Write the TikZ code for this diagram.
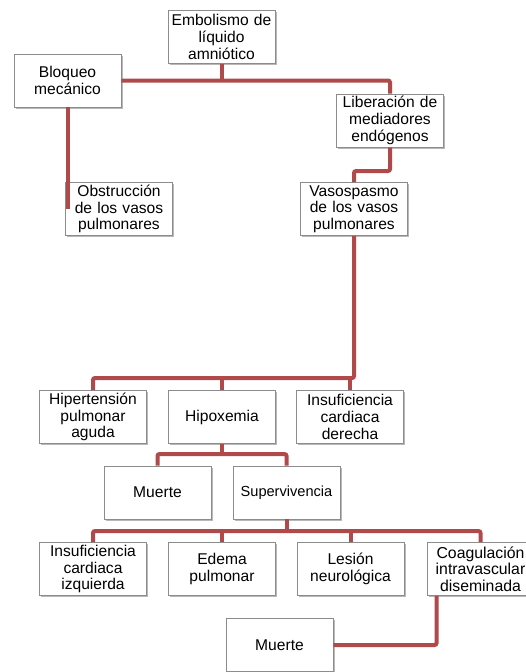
\documentclass[tikz,border=0pt]{standalone}
\usepackage{fontspec}
\setmainfont{Liberation Sans}
\usetikzlibrary{shadows}
\definecolor{linkred}{RGB}{176,74,74}
\definecolor{boxgray}{RGB}{140,140,140}
\tikzset{
  box/.style={draw=boxgray, line width=0.9pt, fill=white, inner sep=1pt,
    minimum width=107pt, minimum height=53pt, text width=104pt, align=center,
    font=\fontsize{15.6}{16.7}\selectfont,
    drop shadow={shadow xshift=1.5pt, shadow yshift=-1.8pt, opacity=0.28, fill=black}},
  link/.style={draw=linkred, line width=4pt, rounded corners=2pt}
}
\begin{document}
\begin{tikzpicture}[x=1pt,y=-1pt]
\useasboundingbox (0,0) rectangle (526,672);
\clip (0,0) rectangle (526,672);
% nodes
\node[box] (emb) at (221.5,37) {Embolismo de\\líquido\\amniótico};
\node[box] (bloq) at (67.5,80.5) {Bloqueo\\mecánico};
\node[box] (lib) at (390,120.5) {Liberación de\\mediadores\\endógenos};
\node[box] (obs) at (119,209) {Obstrucción\\de los vasos\\pulmonares};
\node[box] (vaso) at (354,209) {Vasospasmo\\de los vasos\\pulmonares};
\node[box] (hip) at (93,417) {Hipertensión\\pulmonar\\aguda};
\node[box] (hipox) at (222,417) {Hipoxemia};
\node[box] (icd) at (350,417) {Insuficiencia\\cardiaca\\derecha};
\node[box] (m1) at (157.5,492.5) {Muerte};
\node[box, font=\fontsize{14.6}{16.7}\selectfont] (sup) at (286.5,492.5) {Supervivencia};
\node[box] (ici) at (93,569) {Insuficiencia\\cardiaca\\izquierda};
\node[box] (edema) at (222,569) {Edema\\pulmonar};
\node[box] (lesion) at (350.5,569) {Lesión\\neurológica};
\node[box, font=\fontsize{15.8}{16.7}\selectfont] (coag) at (480.5,569) {Coagulación\\intravascular\\diseminada};
\node[box] (m2) at (279.5,645) {Muerte};
% connectors
\coordinate (j1) at (emb.south |- bloq.east);
\draw[link] (bloq.east) -- (j1) -| (lib.north);
\draw[link] (emb.south) -- (j1);
\draw[link] (bloq.south) -- (bloq.south |- obs.west);
\draw[link] (lib.south) -- (lib.south |- 0,171) -| (vaso.north);
\coordinate (j2) at (vaso.south |- 0,378);
\draw[link] (vaso.south) -- (j2) -| (hip.north);
\draw[link] (hipox.north) -- (hipox.north |- j2);
\draw[link] (icd.north) -- (icd.north |- j2);
\coordinate (j3) at (hipox.south |- 0,454);
\draw[link] (hipox.south) -- (j3);
\draw[link] (m1.north) |- (j3) -| (sup.north);
\coordinate (j4) at (sup.south |- 0,531);
\draw[link] (sup.south) -- (j4);
\draw[link] (ici.north) |- (j4) -| (coag.north);
\draw[link] (edema.north) -- (edema.north |- j4);
\draw[link] (lesion.north) -- (lesion.north |- j4);
\draw[link] (m2.east) -| ([xshift=10pt]coag.south west);
\end{tikzpicture}
\end{document}
